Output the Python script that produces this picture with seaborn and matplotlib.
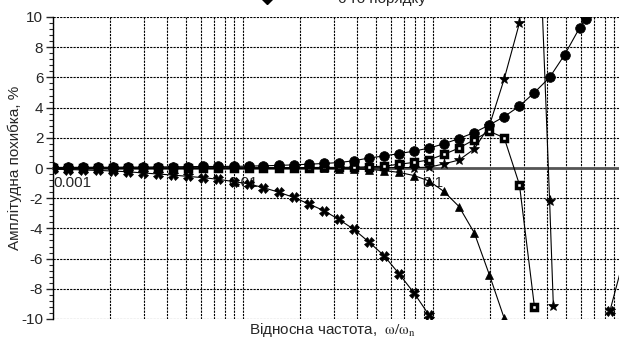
import numpy as np
import pandas as pd
import matplotlib
matplotlib.use("Agg")
import matplotlib.pyplot as plt
import matplotlib.ticker as mticker
from matplotlib.lines import Line2D
import seaborn as sns

# frequency grid (relative frequency, log spaced)
FREQ = [0.001, 0.0012, 0.00144, 0.00173, 0.00207, 0.00249, 0.00299, 0.00358,
        0.0043, 0.00516, 0.00619, 0.00743, 0.00892, 0.0107, 0.0128, 0.0154,
        0.0185, 0.0222, 0.0266, 0.0319, 0.0383, 0.046, 0.0552, 0.0662,
        0.0795, 0.0954, 0.114, 0.137, 0.165, 0.198, 0.237, 0.285, 0.342,
        0.411, 0.493, 0.592, 0.710, 0.852, 1.02]

# amplitude error, % (nan = off the chart)
CIRCLES = [0.04, 0.04, 0.05, 0.05, 0.05, 0.06, 0.06, 0.07, 0.08, 0.09, 0.1,
           0.1, 0.11, 0.12, 0.15, 0.17, 0.21, 0.25, 0.3, 0.36, 0.48, 0.66,
           0.8, 0.95, 1.12, 1.32, 1.6, 1.95, 2.35, 2.85, 3.4, 4.1, 5.0, 6.0,
           7.5, 9.3]
CIRCLES_END = (0.638, 9.9)

SQUARES = [0.0, 0.0, 0.0, 0.0, 0.0, 0.0, 0.0, 0.0, 0.0, 0.0, 0.0, 0.01,
           0.01, 0.01, 0.02, 0.02, 0.03, 0.03, 0.04, 0.04, 0.05, 0.08, 0.12,
           0.25, 0.37, 0.54, 0.9, 1.32, 1.88, 2.43, 2.0, -1.1, -9.2]

STARS = [-0.02, -0.02, -0.02, -0.02, -0.02, -0.02, -0.02, -0.02, -0.02,
         -0.02, -0.02, -0.02, -0.02, -0.02, -0.01, -0.01, -0.01, 0.0, 0.0,
         0.0, 0.0, 0.0, 0.02, 0.03, 0.03, 0.05, 0.27, 0.53, 1.26, 2.8, 5.9,
         9.6, 24.0, -2.2]
STARS_END = (0.43, -9.15)

TRIANGLES = [-0.02, -0.02, -0.02, -0.02, -0.02, -0.02, -0.02, -0.02, -0.02,
             -0.02, -0.02, -0.02, -0.02, -0.02, -0.02, -0.02, -0.02, -0.02,
             -0.03, -0.04, -0.06, -0.1, -0.17, -0.29, -0.5, -0.86, -1.55,
             -2.55, -4.3, -7.07, -9.95]

CROSSES = [-0.08, -0.1, -0.13, -0.16, -0.2, -0.25, -0.33, -0.4, -0.47, -0.56,
           -0.64, -0.75, -0.9, -1.05, -1.3, -1.6, -1.95, -2.38, -2.82, -3.4,
           -4.06, -4.9, -5.8, -7.0, -8.28, -9.75,
           np.nan, np.nan, np.nan, np.nan, np.nan, np.nan, np.nan, np.nan,
           np.nan, np.nan, np.nan, -9.5, -5.8]

X_TICKS = [0.001, 0.01, 0.1]
X_TICK_LABELS = ["0.001", "0.01", "0.1"]
Y_TICKS = [-10, -8, -6, -4, -2, 0, 2, 4, 6, 8, 10]
LEGEND_LABEL = "6-го порядку"


def make_frame(freq, vals, extra=None):
    # long frame, with a segment id so gaps (nan) break the line
    df = pd.DataFrame({"freq": freq[:len(vals)], "err": vals})
    if extra is not None:
        df = pd.concat([df, pd.DataFrame({"freq": [extra[0]], "err": [extra[1]]})],
                       ignore_index=True)
    df["seg"] = df["err"].isna().cumsum()
    return df.dropna()


sns.set_style("white")
plt.rcParams["font.family"] = ["Liberation Sans", "DejaVu Sans"]
plt.rcParams["mathtext.fontset"] = "stix"

fig = plt.figure(figsize=(6.19, 3.38), dpi=100)
ax = fig.add_axes([53 / 619, 19 / 338, 566 / 619, 302 / 338])

line_kw = dict(color="black", lw=0.8, estimator=None, units="seg", sort=True,
               legend=False, ax=ax)

sns.lineplot(data=make_frame(FREQ, TRIANGLES), x="freq", y="err", marker="^",
             ms=6, mec="black", mfc="black", mew=0.5, **line_kw)
sns.lineplot(data=make_frame(FREQ, CROSSES), x="freq", y="err", marker="X",
             ms=7, mec="black", mfc="black", mew=0.5, **line_kw)
sns.lineplot(data=make_frame(FREQ, STARS, STARS_END), x="freq", y="err",
             marker="*", ms=8, mec="black", mfc="black", mew=0.5, **line_kw)
sns.lineplot(data=make_frame(FREQ, SQUARES), x="freq", y="err", marker="s",
             ms=4, mec="black", mfc="white", mew=2.5, **line_kw)
sns.lineplot(data=make_frame(FREQ, CIRCLES, CIRCLES_END), x="freq", y="err",
             marker="o", ms=7, mec="black", mfc="black", mew=0.5, **line_kw)

ax.set_xscale("log")
ax.set_xlim(0.001, 10 ** (-3 + 566 / 190))
ax.set_ylim(-10, 10)

# grid: short dashes, decades and in-between
ax.xaxis.set_major_locator(mticker.FixedLocator(X_TICKS + [1.0]))
ax.xaxis.set_minor_locator(mticker.LogLocator(base=10, subs=np.arange(2, 10)))
ax.xaxis.set_major_formatter(mticker.FixedFormatter(X_TICK_LABELS + ["1"]))
ax.xaxis.set_minor_formatter(mticker.NullFormatter())
ax.set_yticks(Y_TICKS)
ax.yaxis.set_minor_locator(mticker.AutoMinorLocator(5))
ax.yaxis.set_major_formatter(mticker.FuncFormatter(lambda v, p: f"{int(v)}"))
ax.grid(True, which="both", axis="x", color="black", lw=0.8, linestyle=(0, (2, 1)))
ax.grid(True, which="major", axis="y", color="black", lw=0.8, linestyle=(0, (2, 1)))

# x axis sits on zero
for s in ["top", "right"]:
    ax.spines[s].set_visible(False)
ax.spines["bottom"].set_position(("data", 0))
ax.spines["bottom"].set_color("#555555")
ax.spines["bottom"].set_linewidth(2)
ax.spines["bottom"].set_zorder(1)
ax.spines["left"].set_color("black")
ax.spines["left"].set_linewidth(1)

ax.tick_params(axis="x", which="both", length=0, pad=6, labelsize=11)
ax.tick_params(axis="y", which="major", length=5, width=1, pad=2, labelsize=11,
               direction="out", left=True)
ax.tick_params(axis="y", which="minor", length=3, width=0.8, direction="out", left=True)
for lab in ax.get_xticklabels():
    if lab.get_text() == "0.001":
        lab.set_horizontalalignment("left")

ax.set_xlabel("Відносна частота,  $\\mathrm{\\omega/\\omega_{n}}$", fontsize=11)
ax.xaxis.set_label_coords(0.493, -0.005)
ax.set_ylabel("Амплітудна похибка, %", fontsize=11)
ax.yaxis.set_label_coords(-0.055, 0.5)

# legend row, mostly cut off by the top edge in the original
handle = Line2D([], [], color="black", lw=0.8, marker="D", ms=7)
fig.legend(handles=[handle], labels=[LEGEND_LABEL], loc="center",
           bbox_to_anchor=(0.535, 1.004), frameon=False, fontsize=11,
           handlelength=4, handletextpad=2.6)

fig.savefig("out.png", dpi=100)
plt.close(fig)
